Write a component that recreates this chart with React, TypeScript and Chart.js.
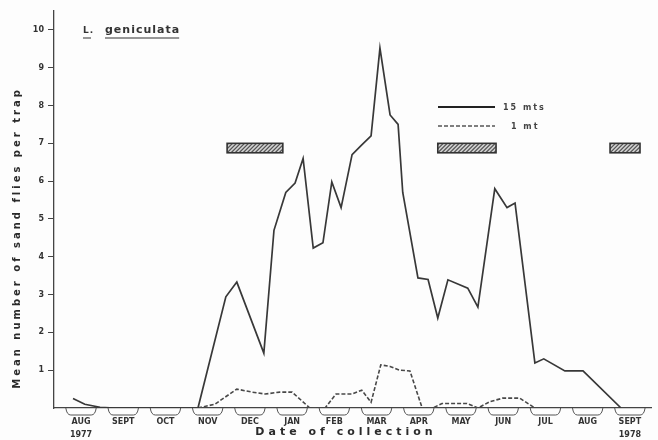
import React, { useEffect, useRef } from "react";
import { Chart, registerables } from "chart.js";
Chart.register(...registerables);

// x values are in month units: AUG 1977 spans [0,1], SEPT 1977 [1,2], ...
const monthLabels = ["AUG", "SEPT", "OCT", "NOV", "DEC", "JAN", "FEB", "MAR", "APR", "MAY", "JUN", "JUL", "AUG", "SEPT"];
const yearLabels = ["1977", "", "", "", "", "", "", "", "", "", "", "", "", "1978"];
const yTicks = [1, 2, 3, 4, 5, 6, 7, 8, 9, 10];

const solidX = [0.31, 0.59, 0.95, 1.3, 3.27, 3.93, 4.19, 4.83, 5.07, 5.35, 5.57, 5.76, 6.0, 6.23, 6.44, 6.66, 6.92, 7.15, 7.37, 7.58, 7.82, 8.01, 8.12, 8.48, 8.72, 8.95, 9.19, 9.66, 9.9, 10.3, 10.59, 10.78, 11.25, 11.46, 11.96, 12.39, 13.29];
const solidY = [0.25, 0.1, 0.02, 0, 0, 2.94, 3.33, 1.45, 4.7, 5.7, 5.95, 6.6, 4.23, 4.37, 5.98, 5.3, 6.7, 6.96, 7.2, 9.52, 7.75, 7.5, 5.7, 3.44, 3.4, 2.38, 3.39, 3.17, 2.67, 5.8, 5.3, 5.42, 1.19, 1.3, 0.98, 0.98, 0];

const dashedX = [3.27, 3.67, 4.19, 4.55, 4.86, 5.21, 5.5, 5.92, 6.28, 6.54, 6.92, 7.15, 7.37, 7.6, 7.82, 8.05, 8.29, 8.58, 8.83, 9.05, 9.64, 9.9, 10.19, 10.49, 10.89, 11.25];
const dashedY = [0, 0.1, 0.5, 0.42, 0.37, 0.42, 0.42, 0, 0, 0.37, 0.37, 0.47, 0.15, 1.14, 1.1, 1.0, 0.98, 0, 0, 0.12, 0.12, 0, 0.17, 0.26, 0.26, 0];

const hatchStart = [3.96, 8.95, 13.03];
const hatchEnd = [5.28, 10.33, 13.74];
const hatchLow = 6.75;
const hatchHigh = 7.0;

const seriesNames = ["15 mts", "1 mt"];

const INK = "#383838";
const FONT = "'DejaVu Sans', sans-serif";

const decorPlugin = {
  id: "decor",
  beforeDraw(chart: any) {
    const ctx = chart.ctx;
    ctx.save();
    ctx.fillStyle = "#fdfdfd";
    ctx.fillRect(0, 0, chart.width, chart.height);
    ctx.restore();
  },
  afterDraw(chart: any) {
    const ctx = chart.ctx;
    const xs = chart.scales.x;
    const ys = chart.scales.y;
    const y0 = ys.getPixelForValue(0);
    ctx.save();

    // month brackets below the axis
    ctx.strokeStyle = "#555";
    ctx.lineWidth = 1;
    monthLabels.forEach((_, i) => {
      const a = xs.getPixelForValue(i + 0.14);
      const b = xs.getPixelForValue(i + 0.86);
      const d = 7;
      ctx.beginPath();
      ctx.moveTo(a, y0);
      ctx.quadraticCurveTo(a + 1, y0 + d, a + 5, y0 + d);
      ctx.lineTo(b - 5, y0 + d);
      ctx.quadraticCurveTo(b - 1, y0 + d, b, y0);
      ctx.stroke();
    });

    // hatched bars
    hatchStart.forEach((s, i) => {
      const a = xs.getPixelForValue(s);
      const b = xs.getPixelForValue(hatchEnd[i]);
      const top = ys.getPixelForValue(hatchHigh);
      const bot = ys.getPixelForValue(hatchLow);
      ctx.save();
      ctx.beginPath();
      ctx.rect(a, top, b - a, bot - top);
      ctx.fillStyle = "#d4d4d4";
      ctx.fill();
      ctx.clip();
      ctx.strokeStyle = "#555";
      ctx.lineWidth = 1.2;
      for (let x = a - 20; x < b + 20; x += 4) {
        ctx.beginPath();
        ctx.moveTo(x, bot);
        ctx.lineTo(x + (bot - top), top);
        ctx.stroke();
      }
      ctx.restore();
      ctx.strokeStyle = "#333";
      ctx.lineWidth = 1.6;
      ctx.strokeRect(a, top, b - a, bot - top);
    });

    // legend
    ctx.fillStyle = "#444";
    ctx.font = `bold 8px ${FONT}`;
    ctx.textBaseline = "middle";
    (ctx as any).letterSpacing = "2px";
    ctx.strokeStyle = "#222";
    ctx.lineWidth = 2;
    ctx.setLineDash([]);
    ctx.beginPath();
    ctx.moveTo(438, 107);
    ctx.lineTo(495, 107);
    ctx.stroke();
    ctx.fillText(seriesNames[0], 503, 108);
    ctx.strokeStyle = "#555";
    ctx.lineWidth = 1.4;
    ctx.setLineDash([4, 2]);
    ctx.beginPath();
    ctx.moveTo(438, 126);
    ctx.lineTo(495, 126);
    ctx.stroke();
    ctx.setLineDash([]);
    ctx.fillText(seriesNames[1], 511, 127);

    // species title
    ctx.textBaseline = "alphabetic";
    ctx.fillStyle = "#333";
    ctx.font = `bold 9px ${FONT}`;
    (ctx as any).letterSpacing = "1px";
    ctx.fillText("L.", 83, 33);
    ctx.font = `bold 11px ${FONT}`;
    ctx.fillText("geniculata", 105, 33);
    const w = ctx.measureText("geniculata").width;
    ctx.strokeStyle = "#333";
    ctx.lineWidth = 1.2;
    ctx.beginPath();
    ctx.moveTo(83, 38);
    ctx.lineTo(91, 38);
    ctx.moveTo(105, 38);
    ctx.lineTo(105 + w - 1, 38);
    ctx.stroke();

    // axis titles
    ctx.fillStyle = "#2a2a2a";
    ctx.font = `bold 10px ${FONT}`;
    (ctx as any).letterSpacing = "3px";
    ctx.textAlign = "center";
    ctx.textBaseline = "middle";
    ctx.save();
    ctx.translate(17, 238);
    ctx.rotate(-Math.PI / 2);
    ctx.fillText("Mean number of sand flies per trap", 0, 0);
    ctx.restore();

    ctx.font = `bold 11px ${FONT}`;
    (ctx as any).letterSpacing = "4px";
    ctx.fillText("Date of collection", 346, 432);
    (ctx as any).letterSpacing = "0px";
    ctx.restore();
  },
};

export default function App() {
  const ref = useRef<HTMLCanvasElement | null>(null);
  useEffect(() => {
    if (!ref.current) return;
    const chart = new Chart(ref.current, {
      type: "line",
      data: {
        datasets: [
          {
            label: seriesNames[0],
            data: solidX.map((x, i) => ({ x, y: solidY[i] })),
            borderColor: INK,
            borderWidth: 1.7,
            pointRadius: 0,
            tension: 0,
            fill: false,
          },
          {
            label: seriesNames[1],
            data: dashedX.map((x, i) => ({ x, y: dashedY[i] })),
            borderColor: "#484848",
            borderWidth: 1.6,
            borderDash: [4, 2],
            pointRadius: 0,
            tension: 0,
            fill: false,
          },
        ],
      },
      options: {
        animation: false,
        responsive: true,
        maintainAspectRatio: false,
        layout: { padding: { top: 11, right: 7, left: 0, bottom: 0 } },
        plugins: { legend: { display: false }, tooltip: { enabled: false } },
        scales: {
          x: {
            type: "linear",
            min: -0.14,
            max: 14.0,
            afterBuildTicks: (s: any) => {
              s.ticks = monthLabels.map((_, i) => ({ value: i + 0.5 }));
            },
            afterFit: (s: any) => {
              s.height = 32;
            },
            grid: { display: false, drawTicks: false },
            border: { display: true, color: "#444", width: 1.3 },
            ticks: {
              autoSkip: false,
              maxRotation: 0,
              padding: 8,
              color: "#333",
              font: { family: FONT, size: 8, weight: "bold", lineHeight: 1.6 },
              callback: (_v: any, i: number) =>
                yearLabels[i] ? [monthLabels[i], yearLabels[i]] : monthLabels[i],
            },
          },
          y: {
            type: "linear",
            min: 0,
            max: 10.5,
            afterBuildTicks: (s: any) => {
              s.ticks = yTicks.map((v) => ({ value: v }));
            },
            afterFit: (s: any) => {
              s.width = 54;
            },
            grid: { drawOnChartArea: false, tickLength: 6, color: "#444", lineWidth: 1 },
            border: { display: true, color: "#444", width: 1.3 },
            ticks: {
              padding: 4,
              color: "#333",
              font: { family: FONT, size: 8, weight: "bold" },
            },
          },
        },
      },
      plugins: [decorPlugin],
    } as any);
    return () => chart.destroy();
  }, []);
  return (
    <div style={{ position: "fixed", left: 0, top: 0, width: 658, height: 440, background: "#fdfdfd" }}>
      <canvas ref={ref} />
    </div>
  );
}
